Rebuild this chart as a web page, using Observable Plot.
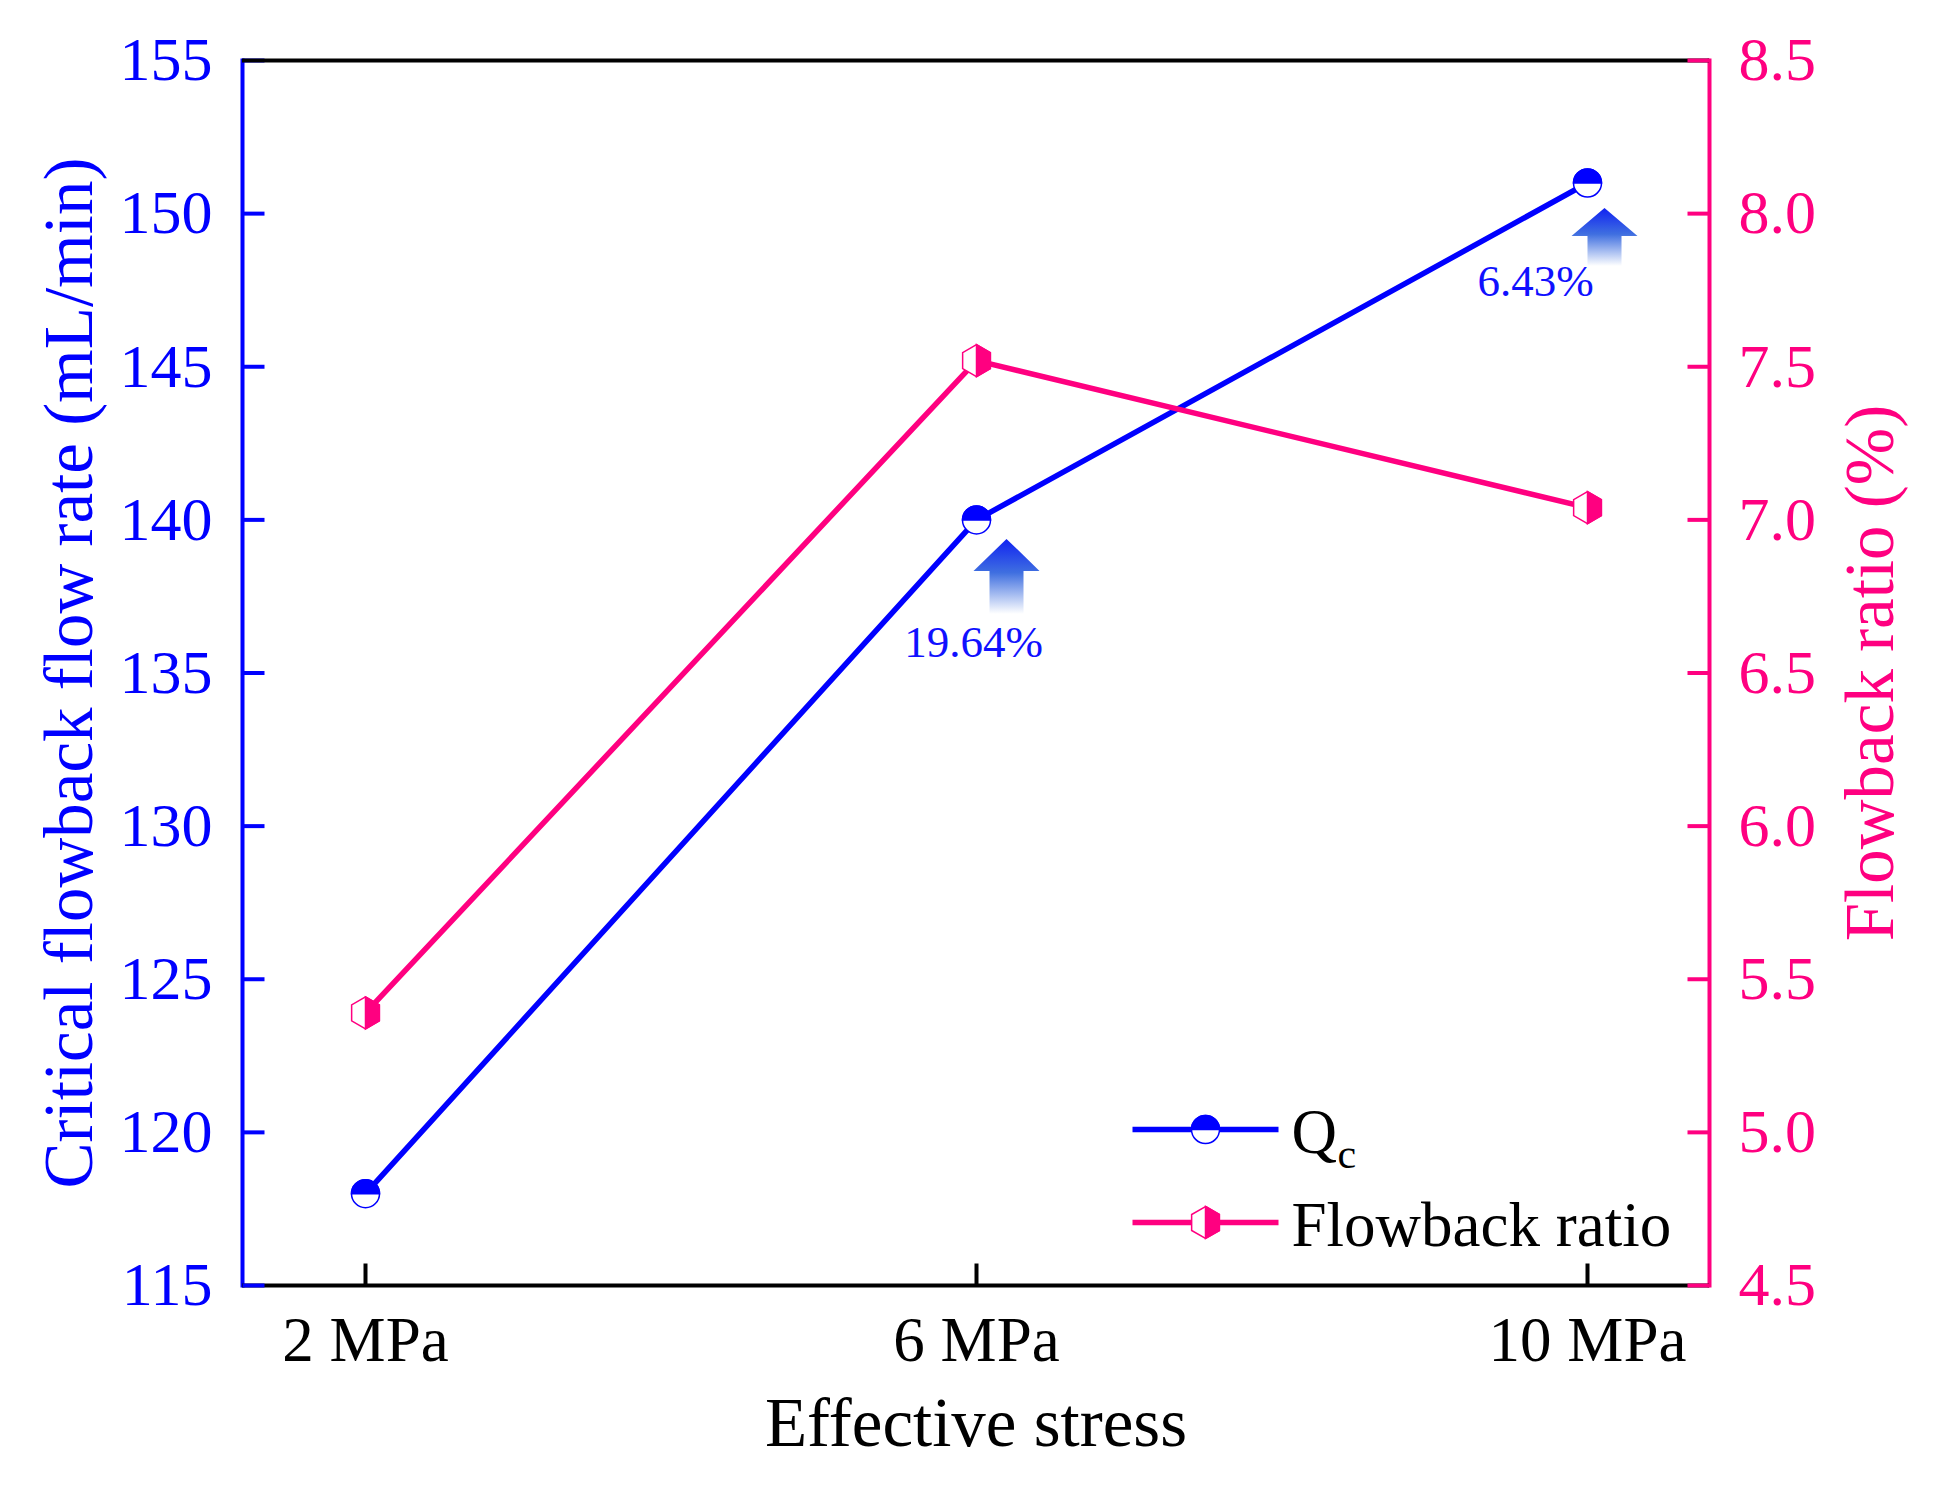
<!DOCTYPE html>
<html>
<head>
<meta charset="utf-8">
<script src="https://cdn.jsdelivr.net/npm/d3@7"></script>
<script src="https://cdn.jsdelivr.net/npm/@observablehq/plot@0.6"></script>
<style>
  body { margin: 0; background: #ffffff; }
  #chart { position: relative; width: 1946px; height: 1488px; }
</style>
</head>
<body>
<svg width="0" height="0" style="position:absolute">
  <defs>
    <linearGradient id="arrowGrad" x1="0" y1="0" x2="0" y2="1">
      <stop offset="0" stop-color="#1022f2"></stop>
      <stop offset="0.45" stop-color="#3f6fe0"></stop>
      <stop offset="1" stop-color="#ffffff"></stop>
    </linearGradient>
  </defs>
</svg>
<div id="chart"></div>
<script>
// ---- data ----
const stresses = ["2 MPa", "6 MPa", "10 MPa"];
const criticalFlowRate = [118, 140, 151];      // Qc, mL/min (left axis)
const flowbackRatio = [5.39, 7.52, 7.04];      // %, right axis
const increaseLabels = ["", "19.64%", "6.43%"];
const leftTicks = [115, 120, 125, 130, 135, 140, 145, 150, 155];
const rightTicks = [4.5, 5.0, 5.5, 6.0, 6.5, 7.0, 7.5, 8.0, 8.5];
const seriesNames = ["Q", "Flowback ratio"];

const BLUE = "#0000ff";
const PINK = "#ff0080";
const FONT = "'Liberation Serif', 'Times New Roman', serif";

// right axis (ratio) mapped onto the left (Qc) scale
const toLeft = r => 115 + (r - 4.5) * 10;
const toRight = q => (q - 115) / 10 + 4.5;

const qData = stresses.map((s, i) => ({stress: s, value: criticalFlowRate[i], label: increaseLabels[i]}));
const rData = stresses.map((s, i) => ({stress: s, value: toLeft(flowbackRatio[i])}));
const ann6 = qData.filter(d => d.stress === "6 MPa");
const ann10 = qData.filter(d => d.stress === "10 MPa");

// ---- custom symbols ----
const circleFull = {draw(ctx, size) { const r = Math.sqrt(size / Math.PI); ctx.moveTo(r, 0); ctx.arc(0, 0, r, 0, 2 * Math.PI); ctx.closePath(); }};
const circleTop = {draw(ctx, size) { const r = Math.sqrt(size / Math.PI); ctx.moveTo(-r, 0); ctx.arc(0, 0, r, Math.PI, 2 * Math.PI); ctx.closePath(); }};
const hexFull = {draw(ctx, size) {
  const R = Math.sqrt(size / Math.PI), w = R * Math.sqrt(3) / 2;
  ctx.moveTo(0, -R); ctx.lineTo(w, -R / 2); ctx.lineTo(w, R / 2); ctx.lineTo(0, R);
  ctx.lineTo(-w, R / 2); ctx.lineTo(-w, -R / 2); ctx.closePath();
}};
const hexRight = {draw(ctx, size) {
  const R = Math.sqrt(size / Math.PI), w = R * Math.sqrt(3) / 2;
  ctx.moveTo(0, -R); ctx.lineTo(w, -R / 2); ctx.lineTo(w, R / 2); ctx.lineTo(0, R); ctx.closePath();
}};
const seg = (x1, y1, x2, y2) => ({draw(ctx) { ctx.moveTo(x1, y1); ctx.lineTo(x2, y2); }});
const tickIn = 22;
const tickRight = seg(0, 0, tickIn, 0);
const tickLeft = seg(0, 0, -tickIn, 0);
const tickUp = seg(0, 0, 0, -tickIn);
const legendLine = seg(-73, 0, 73, 0);
function arrowSymbol(halfHead, halfShaft, headH, totalH) {
  return {draw(ctx) {
    ctx.moveTo(0, 0); ctx.lineTo(halfHead, headH); ctx.lineTo(halfShaft, headH);
    ctx.lineTo(halfShaft, totalH); ctx.lineTo(-halfShaft, totalH); ctx.lineTo(-halfShaft, headH);
    ctx.lineTo(-halfHead, headH); ctx.closePath();
  }};
}

const RC = 14;   // circle marker radius
const RH = 16;   // hexagon marker radius
const LW = 5.5;  // series line width

const chart = Plot.plot({
  width: 1946,
  height: 1488,
  marginLeft: 242,
  marginRight: 237,
  marginTop: 60,
  marginBottom: 203,
  style: {fontFamily: FONT, background: "#ffffff"},
  x: {type: "point", domain: stresses, padding: 0.2},
  y: {domain: [115, 155]},
  marks: [
    // frame sides
    Plot.frame({anchor: "left", stroke: BLUE, strokeWidth: 4}),
    Plot.frame({anchor: "right", stroke: PINK, strokeWidth: 4}),
    Plot.ruleY([115], {stroke: "black", strokeWidth: 4}),
    Plot.dot(leftTicks, {y: d => d, frameAnchor: "left", symbol: tickRight, r: 1, fill: "none", stroke: BLUE, strokeWidth: 4}),
    Plot.ruleY([155], {stroke: "black", strokeWidth: 4}),
    Plot.dot(rightTicks.map(toLeft), {y: d => d, frameAnchor: "right", symbol: tickLeft, r: 1, fill: "none", stroke: PINK, strokeWidth: 4}),
    Plot.dot(stresses, {x: d => d, frameAnchor: "bottom", symbol: tickUp, r: 1, fill: "none", stroke: "black", strokeWidth: 4}),

    // axes
    Plot.axisY({anchor: "left", ticks: leftTicks, tickSize: 0, tickPadding: 30, fontSize: 62, color: BLUE, label: null}),
    Plot.axisY({anchor: "right", ticks: rightTicks.map(toLeft), tickFormat: d => toRight(d).toFixed(1), tickSize: 0, tickPadding: 29, fontSize: 62, color: PINK, label: null}),
    Plot.axisX({tickSize: 0, tickPadding: 31, fontSize: 63, color: "black", label: null}),

    // axis titles
    Plot.text(["Critical flowback flow rate (mL/min)"], {text: d => d, frameAnchor: "left", textAnchor: "middle", lineAnchor: "middle", rotate: -90, dx: -173, fontSize: 69, fill: BLUE}),
    Plot.text(["Flowback ratio (%)"], {text: d => d, frameAnchor: "right", textAnchor: "middle", lineAnchor: "middle", rotate: -90, dx: 161, fontSize: 69, fill: PINK}),
    Plot.text(["Effective stress"], {text: d => d, frameAnchor: "bottom", textAnchor: "middle", lineAnchor: "middle", dy: 138, fontSize: 69, fill: "black"}),

    // series lines
    Plot.line(qData, {x: "stress", y: "value", stroke: BLUE, strokeWidth: LW}),
    Plot.line(rData, {x: "stress", y: "value", stroke: PINK, strokeWidth: LW}),

    // markers
    Plot.dot(qData, {x: "stress", y: "value", symbol: circleFull, r: RC, fill: "white", stroke: BLUE, strokeWidth: 1.5}),
    Plot.dot(qData, {x: "stress", y: "value", symbol: circleTop, r: RC, fill: BLUE, stroke: BLUE, strokeWidth: 1.5}),
    Plot.dot(rData, {x: "stress", y: "value", symbol: hexFull, r: RH, fill: "white", stroke: PINK, strokeWidth: 1.5}),
    Plot.dot(rData, {x: "stress", y: "value", symbol: hexRight, r: RH, fill: PINK, stroke: PINK, strokeWidth: 1.5}),

    // increase arrows & labels
    Plot.dot(ann6, {x: "stress", y: "value", symbol: arrowSymbol(33, 17, 32, 75), r: 1, fill: "url(#arrowGrad)", stroke: "none", dx: 30, dy: 19}),
    Plot.dot(ann10, {x: "stress", y: "value", symbol: arrowSymbol(33, 17, 28, 58), r: 1, fill: "url(#arrowGrad)", stroke: "none", dx: 17, dy: 25}),
    Plot.text(ann6, {x: "stress", y: "value", text: "label", dx: -3, dy: 123, fontSize: 45, fill: "#1010ff"}),
    Plot.text(ann10, {x: "stress", y: "value", text: "label", dx: -52, dy: 99, fontSize: 45, fill: "#1010ff"}),

    // legend
    Plot.dot([0], {frameAnchor: "bottom-right", symbol: legendLine, r: 1, fill: "none", stroke: BLUE, strokeWidth: LW, dx: -504, dy: -156}),
    Plot.dot([0], {frameAnchor: "bottom-right", symbol: circleFull, r: RC, fill: "white", stroke: BLUE, strokeWidth: 1.5, dx: -504, dy: -156}),
    Plot.dot([0], {frameAnchor: "bottom-right", symbol: circleTop, r: RC, fill: BLUE, stroke: BLUE, strokeWidth: 1.5, dx: -504, dy: -156}),
    Plot.dot([0], {frameAnchor: "bottom-right", symbol: legendLine, r: 1, fill: "none", stroke: PINK, strokeWidth: LW, dx: -504, dy: -63}),
    Plot.dot([0], {frameAnchor: "bottom-right", symbol: hexFull, r: RH, fill: "white", stroke: PINK, strokeWidth: 1.5, dx: -504, dy: -63}),
    Plot.dot([0], {frameAnchor: "bottom-right", symbol: hexRight, r: RH, fill: PINK, stroke: PINK, strokeWidth: 1.5, dx: -504, dy: -63}),
    Plot.text([seriesNames[0]], {text: d => d, frameAnchor: "bottom-right", textAnchor: "start", lineAnchor: "middle", fontSize: 63, fill: "black", dx: -418, dy: -153}),
    Plot.text(["c"], {text: d => d, frameAnchor: "bottom-right", textAnchor: "start", lineAnchor: "middle", fontSize: 42, fill: "black", dx: -372, dy: -131}),
    Plot.text([seriesNames[1]], {text: d => d, frameAnchor: "bottom-right", textAnchor: "start", lineAnchor: "middle", fontSize: 63, fill: "black", dx: -418, dy: -60})
  ]
});
document.getElementById("chart").appendChild(chart);
</script>
</body>
</html>
